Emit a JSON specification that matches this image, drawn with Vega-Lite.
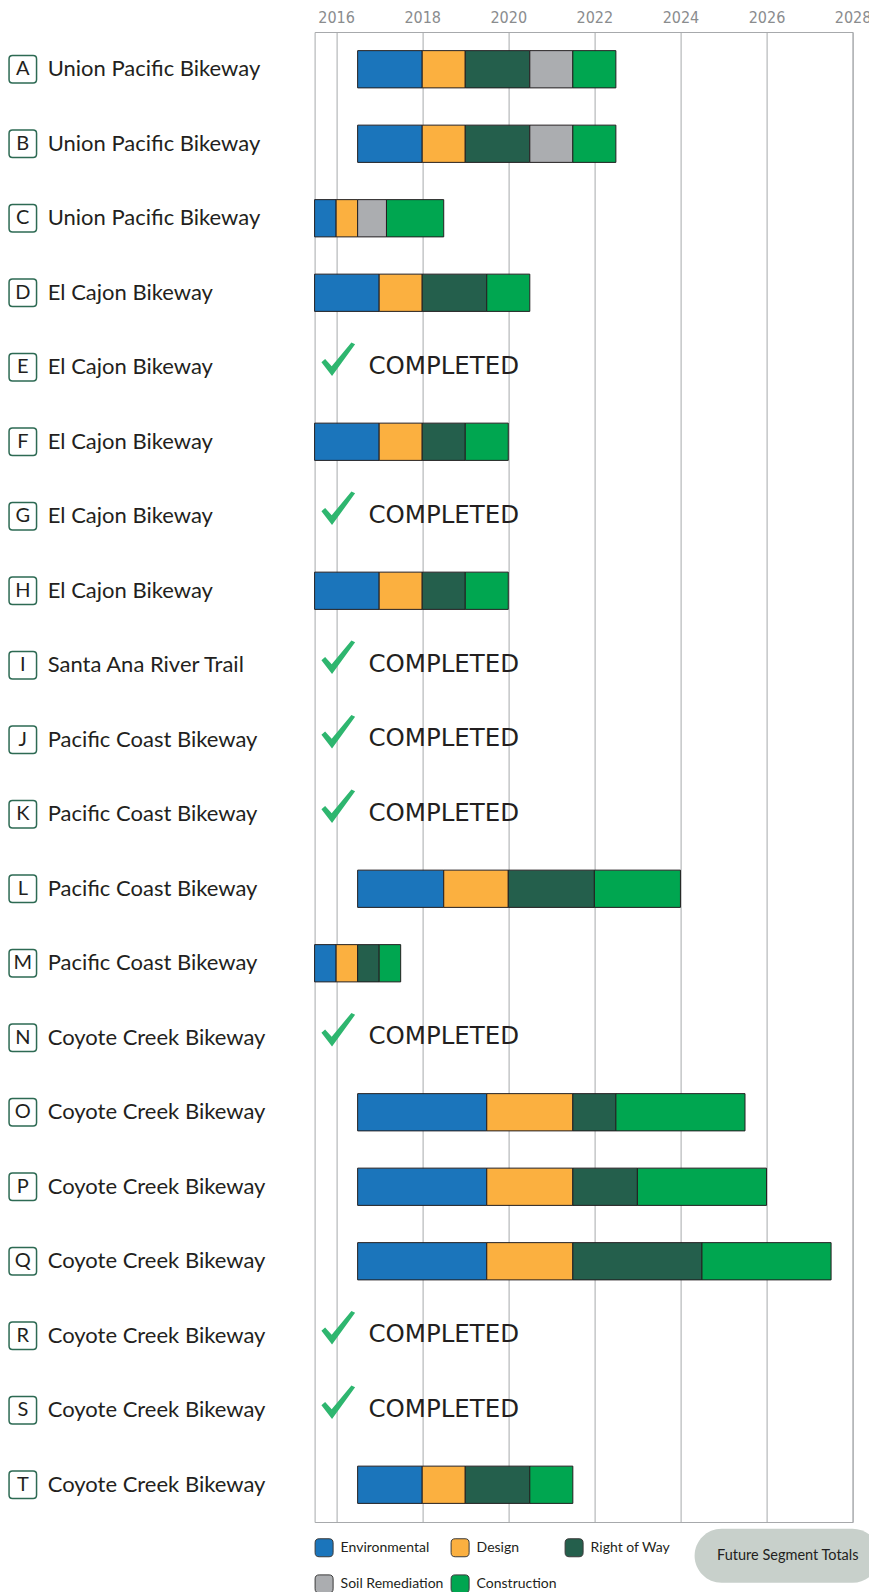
{
  "$schema": "https://vega.github.io/schema/vega-lite/v6.json",
  "padding": {"left": 0, "top": 8, "right": 0, "bottom": 0},
  "bounds": "flush",
  "spacing": 14.6,
  "background": "white",
  "config": {
    "font": "Lato",
    "view": {"stroke": "#a7a9ac"}
  },
  "resolve": {
    "scale": {"color": "independent", "shape": "independent"},
    "legend": {"color": "independent", "shape": "independent"}
  },
  "datasets": {
    "rows": [
      {"row": "A", "name": "Union Pacific Bikeway", "status": ""},
      {"row": "B", "name": "Union Pacific Bikeway", "status": ""},
      {"row": "C", "name": "Union Pacific Bikeway", "status": ""},
      {"row": "D", "name": "El Cajon Bikeway", "status": ""},
      {"row": "E", "name": "El Cajon Bikeway", "status": "COMPLETED"},
      {"row": "F", "name": "El Cajon Bikeway", "status": ""},
      {"row": "G", "name": "El Cajon Bikeway", "status": "COMPLETED"},
      {"row": "H", "name": "El Cajon Bikeway", "status": ""},
      {"row": "I", "name": "Santa Ana River Trail", "status": "COMPLETED"},
      {"row": "J", "name": "Pacific Coast Bikeway", "status": "COMPLETED"},
      {"row": "K", "name": "Pacific Coast Bikeway", "status": "COMPLETED"},
      {"row": "L", "name": "Pacific Coast Bikeway", "status": ""},
      {"row": "M", "name": "Pacific Coast Bikeway", "status": ""},
      {"row": "N", "name": "Coyote Creek Bikeway", "status": "COMPLETED"},
      {"row": "O", "name": "Coyote Creek Bikeway", "status": ""},
      {"row": "P", "name": "Coyote Creek Bikeway", "status": ""},
      {"row": "Q", "name": "Coyote Creek Bikeway", "status": ""},
      {"row": "R", "name": "Coyote Creek Bikeway", "status": "COMPLETED"},
      {"row": "S", "name": "Coyote Creek Bikeway", "status": "COMPLETED"},
      {"row": "T", "name": "Coyote Creek Bikeway", "status": ""}
    ],
    "phases": [
      {"row": "A", "phase": "Environmental", "start": 2016.5, "end": 2018},
      {"row": "A", "phase": "Design", "start": 2018, "end": 2019},
      {"row": "A", "phase": "Right of Way", "start": 2019, "end": 2020.5},
      {"row": "A", "phase": "Soil Remediation", "start": 2020.5, "end": 2021.5},
      {"row": "A", "phase": "Construction", "start": 2021.5, "end": 2022.5},
      {"row": "B", "phase": "Environmental", "start": 2016.5, "end": 2018},
      {"row": "B", "phase": "Design", "start": 2018, "end": 2019},
      {"row": "B", "phase": "Right of Way", "start": 2019, "end": 2020.5},
      {"row": "B", "phase": "Soil Remediation", "start": 2020.5, "end": 2021.5},
      {"row": "B", "phase": "Construction", "start": 2021.5, "end": 2022.5},
      {"row": "C", "phase": "Environmental", "start": 2015.5, "end": 2016},
      {"row": "C", "phase": "Design", "start": 2016, "end": 2016.5},
      {"row": "C", "phase": "Soil Remediation", "start": 2016.5, "end": 2017.17},
      {"row": "C", "phase": "Construction", "start": 2017.17, "end": 2018.5},
      {"row": "D", "phase": "Environmental", "start": 2015.5, "end": 2017},
      {"row": "D", "phase": "Design", "start": 2017, "end": 2018},
      {"row": "D", "phase": "Right of Way", "start": 2018, "end": 2019.5},
      {"row": "D", "phase": "Construction", "start": 2019.5, "end": 2020.5},
      {"row": "F", "phase": "Environmental", "start": 2015.5, "end": 2017},
      {"row": "F", "phase": "Design", "start": 2017, "end": 2018},
      {"row": "F", "phase": "Right of Way", "start": 2018, "end": 2019},
      {"row": "F", "phase": "Construction", "start": 2019, "end": 2020},
      {"row": "H", "phase": "Environmental", "start": 2015.5, "end": 2017},
      {"row": "H", "phase": "Design", "start": 2017, "end": 2018},
      {"row": "H", "phase": "Right of Way", "start": 2018, "end": 2019},
      {"row": "H", "phase": "Construction", "start": 2019, "end": 2020},
      {"row": "L", "phase": "Environmental", "start": 2016.5, "end": 2018.5},
      {"row": "L", "phase": "Design", "start": 2018.5, "end": 2020},
      {"row": "L", "phase": "Right of Way", "start": 2020, "end": 2022},
      {"row": "L", "phase": "Construction", "start": 2022, "end": 2024},
      {"row": "M", "phase": "Environmental", "start": 2015.5, "end": 2016},
      {"row": "M", "phase": "Design", "start": 2016, "end": 2016.5},
      {"row": "M", "phase": "Right of Way", "start": 2016.5, "end": 2017},
      {"row": "M", "phase": "Construction", "start": 2017, "end": 2017.5},
      {"row": "O", "phase": "Environmental", "start": 2016.5, "end": 2019.5},
      {"row": "O", "phase": "Design", "start": 2019.5, "end": 2021.5},
      {"row": "O", "phase": "Right of Way", "start": 2021.5, "end": 2022.5},
      {"row": "O", "phase": "Construction", "start": 2022.5, "end": 2025.5},
      {"row": "P", "phase": "Environmental", "start": 2016.5, "end": 2019.5},
      {"row": "P", "phase": "Design", "start": 2019.5, "end": 2021.5},
      {"row": "P", "phase": "Right of Way", "start": 2021.5, "end": 2023},
      {"row": "P", "phase": "Construction", "start": 2023, "end": 2026},
      {"row": "Q", "phase": "Environmental", "start": 2016.5, "end": 2019.5},
      {"row": "Q", "phase": "Design", "start": 2019.5, "end": 2021.5},
      {"row": "Q", "phase": "Right of Way", "start": 2021.5, "end": 2024.5},
      {"row": "Q", "phase": "Construction", "start": 2024.5, "end": 2027.5},
      {"row": "T", "phase": "Environmental", "start": 2016.5, "end": 2018},
      {"row": "T", "phase": "Design", "start": 2018, "end": 2019},
      {"row": "T", "phase": "Right of Way", "start": 2019, "end": 2020.5},
      {"row": "T", "phase": "Construction", "start": 2020.5, "end": 2021.5}
    ],
    "note": [
      {"note": "Future Segment Totals"}
    ]
  },
  "hconcat": [
    {
      "width": 300,
      "height": 1490,
      "view": {"stroke": null},
      "data": {"name": "rows"},
      "encoding": {
        "y": {
          "field": "row",
          "type": "nominal",
          "axis": null,
          "scale": {"type": "band", "domain": ["A","B","C","D","E","F","G","H","I","J","K","L","M","N","O","P","Q","R","S","T"], "paddingInner": 0.5, "paddingOuter": 0.25}
        }
      },
      "layer": [
        {
          "mark": {
            "type": "point",
            "shape": "M-0.75,-1 L0.75,-1 Q1,-1 1,-0.75 L1,0.75 Q1,1 0.75,1 L-0.75,1 Q-1,1 -1,0.75 L-1,-0.75 Q-1,-1 -0.75,-1 Z",
            "size": 756,
            "filled": true,
            "fill": "white",
            "stroke": "#2d6a53",
            "strokeWidth": 1.5,
            "opacity": 1
          },
          "encoding": {
            "x": {"datum": 22.8, "type": "quantitative", "scale": {"domain": [0, 300], "nice": false, "zero": false}, "axis": null}
          }
        },
        {
          "mark": {"type": "text", "font": "Lato", "fontSize": 20, "color": "#231f20", "align": "center", "baseline": "middle"},
          "encoding": {
            "x": {"datum": 22.8, "type": "quantitative"},
            "text": {"field": "row"}
          }
        },
        {
          "mark": {"type": "text", "font": "Lato", "fontSize": 22, "color": "#231f20", "align": "left", "baseline": "middle"},
          "encoding": {
            "x": {"datum": 47.7, "type": "quantitative"},
            "text": {"field": "name"}
          }
        }
      ]
    },
    {
      "width": 538,
      "height": 1490,
      "layer": [
        {
          "data": {"name": "phases"},
          "mark": {"type": "bar", "stroke": "#231f20", "strokeWidth": 1},
          "encoding": {
            "y": {
              "field": "row",
              "type": "nominal",
              "axis": null,
              "scale": {"type": "band", "domain": ["A","B","C","D","E","F","G","H","I","J","K","L","M","N","O","P","Q","R","S","T"], "paddingInner": 0.5, "paddingOuter": 0.25}
            },
            "x": {
              "field": "start",
              "type": "quantitative",
              "scale": {"domain": [2015.5, 2028], "nice": false, "zero": false},
              "axis": {
                "orient": "top",
                "values": [2016, 2018, 2020, 2022, 2024, 2026, 2028],
                "format": "d",
                "grid": true,
                "gridColor": "#a7a9ac",
                "gridWidth": 1,
                "ticks": false,
                "tickSize": 0,
                "domain": false,
                "labelFont": "'Liberation Sans Narrow', 'DejaVu Sans Condensed', Lato",
                "labelFontSize": 16,
                "labelColor": "#8a8c8e",
                "labelPadding": 10,
                "labelBaseline": "alphabetic",
                "labelFlush": false,
                "labelOverlap": false,
                "title": null
              }
            },
            "x2": {"field": "end"},
            "color": {
              "field": "phase",
              "type": "nominal",
              "scale": {
                "domain": ["Environmental", "Design", "Right of Way", "Soil Remediation", "Construction"],
                "range": ["#1b75bb", "#fbb040", "#245f4c", "#abadb0", "#00a650"]
              },
              "legend": {
                "orient": "none",
                "legendX": 0,
                "legendY": 1506,
                "title": null,
                "direction": "horizontal",
                "columns": 3,
                "padding": 0,
                "symbolType": "M-0.55,-1 L0.55,-1 Q1,-1 1,-0.55 L1,0.55 Q1,1 0.55,1 L-0.55,1 Q-1,1 -1,0.55 L-1,-0.55 Q-1,-1 -0.55,-1 Z",
                "symbolSize": 324,
                "symbolStrokeColor": "#3a3a3a",
                "symbolStrokeWidth": 1,
                "symbolOpacity": 1,
                "labelFont": "Lato",
                "labelFontSize": 14,
                "labelColor": "#231f20",
                "labelOffset": 7,
                "columnPadding": 5,
                "rowPadding": 13.4,
                "labelLimit": 300
              }
            }
          }
        },
        {
          "data": {"name": "rows"},
          "transform": [{"filter": "datum.status === 'COMPLETED'"}],
          "mark": {
            "type": "point",
            "shape": "M-1,0.18 L-0.78,-0.02 L-0.39,0.42 L0.78,-1 L1,-0.89 L-0.37,1 Z",
            "size": 1135,
            "filled": true,
            "color": "#2eb66f",
            "opacity": 1,
            "yOffset": -8
          },
          "encoding": {
            "y": {"field": "row", "type": "nominal"},
            "x": {"datum": 2016.05, "type": "quantitative"}
          }
        },
        {
          "data": {"name": "rows"},
          "transform": [{"filter": "datum.status === 'COMPLETED'"}],
          "mark": {"type": "text", "font": "DejaVu Sans", "fontSize": 24.5, "color": "#231f20", "align": "left", "baseline": "alphabetic", "dy": 6.5},
          "encoding": {
            "y": {"field": "row", "type": "nominal"},
            "x": {"datum": 2016.75, "type": "quantitative"},
            "text": {"field": "status"}
          }
        },
        {
          "data": {"name": "note"},
          "mark": {"type": "point", "opacity": 0},
          "encoding": {
            "shape": {
              "field": "note",
              "type": "nominal",
              "legend": {
                "orient": "none",
                "legendX": 380,
                "legendY": 1496.7,
                "title": null,
                "fillColor": "#c8d0cb",
                "cornerRadius": 28,
                "padding": 20,
                "symbolSize": 0,
                "symbolOpacity": 0,
                "labelOffset": -12,
                "labelFont": "Lato",
                "labelFontSize": 14.5,
                "labelColor": "#231f20",
                "labelLimit": 400
              }
            }
          }
        }
      ]
    }
  ]
}
